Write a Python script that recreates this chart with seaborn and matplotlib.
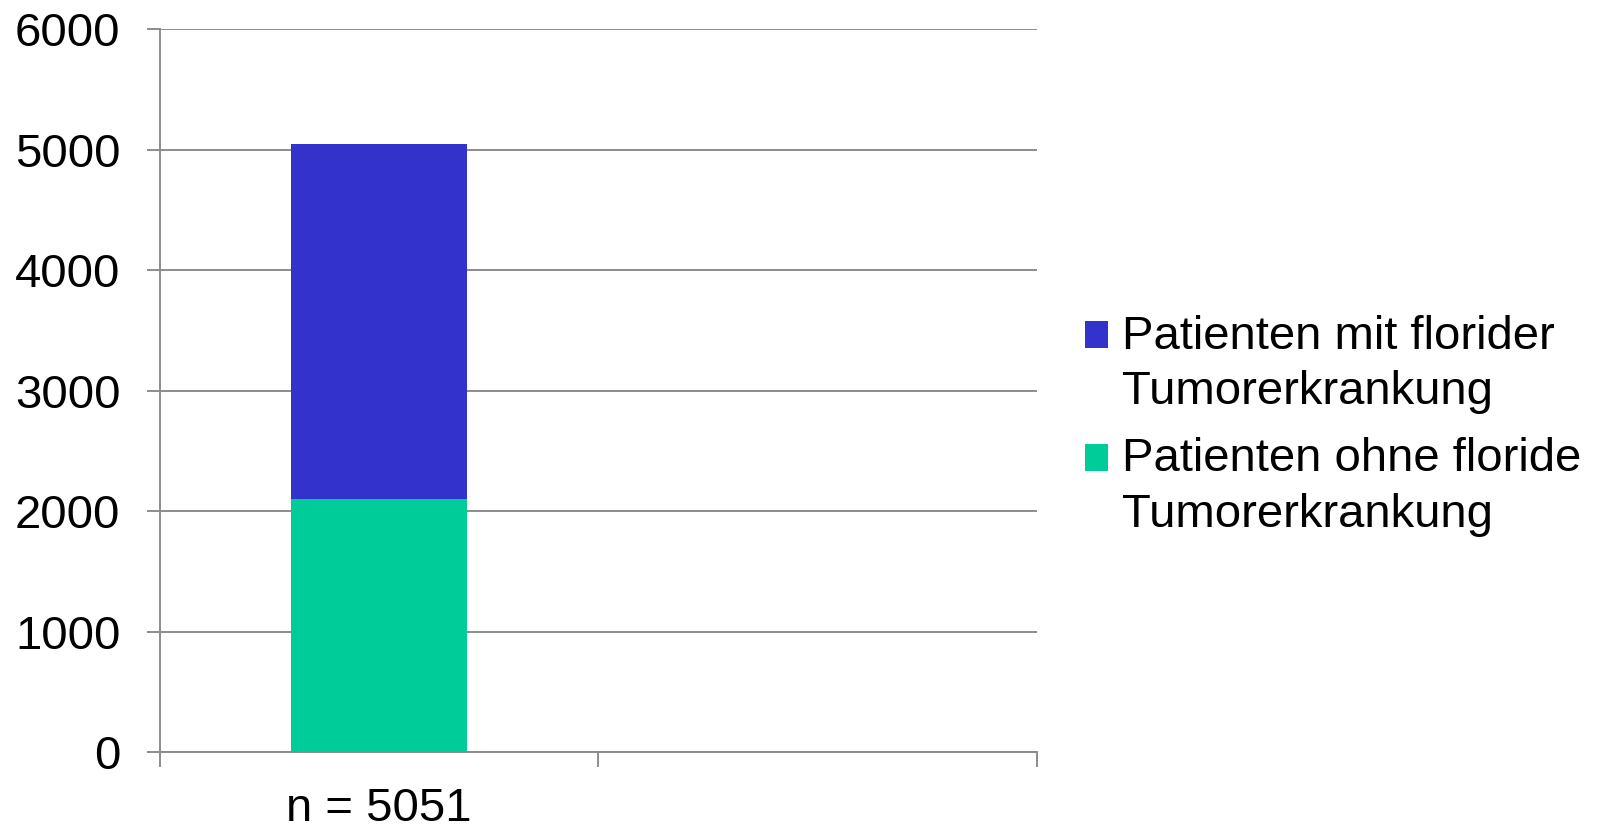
import matplotlib
matplotlib.use("Agg")
import matplotlib.pyplot as plt
from matplotlib.patches import Patch, Rectangle
from matplotlib.legend_handler import HandlerPatch
import seaborn as sns
import pandas as pd

categories = ["n = 5051", ""]
bar_category = ["n = 5051"]
ohne_values = [2100]          # Patienten ohne floride Tumorerkrankung
mit_values = [2951]           # Patienten mit florider Tumorerkrankung
series_labels = ["Patienten mit florider\nTumorerkrankung",
                 "Patienten ohne floride\nTumorerkrankung"]
yticks = [0, 1000, 2000, 3000, 4000, 5000, 6000]

BLUE = "#3333CC"
GREEN = "#00CC99"
GRID = "#8c8c8c"
FS = 34

sns.set_style("white")
plt.rcParams["font.family"] = ["Liberation Sans", "DejaVu Sans"]
plt.rcParams["text.color"] = "black"
plt.rcParams["xtick.labelcolor"] = "black"
plt.rcParams["ytick.labelcolor"] = "black"

fig = plt.figure(figsize=(16.01, 8.33), dpi=100)
ax = fig.add_axes([0.0999, 0.0969, 0.5478, 0.8679])

totals = [o + m for o, m in zip(ohne_values, mit_values)]
df_tot = pd.DataFrame({"cat": bar_category, "val": totals})
df_ohne = pd.DataFrame({"cat": bar_category, "val": ohne_values})

sns.barplot(data=df_tot, x="cat", y="val", order=categories, color=BLUE,
            saturation=1, width=0.4, ax=ax, zorder=3, linewidth=0)
sns.barplot(data=df_ohne, x="cat", y="val", order=categories, color=GREEN,
            saturation=1, width=0.4, ax=ax, zorder=4, linewidth=0)

ax.set_xlim(-0.5, 1.5)
ax.set_ylim(0, 6000)
ax.set_yticks(yticks)
ax.set_yticklabels([str(v) for v in yticks], fontsize=FS, color="black")
ax.set_xticks([0, 1])
ax.set_xticklabels(categories, fontsize=FS, color="black")
ax.set_xticks([-0.5, 0.5, 1.5], minor=True)
ax.set_xlabel("")
ax.set_ylabel("")

ax.yaxis.grid(True, color=GRID, linewidth=1.4, zorder=0)
ax.set_axisbelow(True)
for s in ["top", "right"]:
    ax.spines[s].set_visible(False)
for s in ["left", "bottom"]:
    ax.spines[s].set_color(GRID)
    ax.spines[s].set_linewidth(1.4)

ax.tick_params(axis="y", which="major", length=9.4, width=1.4, color=GRID,
               pad=19, left=True, direction="out")
ax.tick_params(axis="x", which="major", length=0, pad=25, bottom=True)
ax.tick_params(axis="x", which="minor", length=10.8, width=1.4, color=GRID,
               bottom=True, direction="out")


def top_square(legend, orig_handle, xdescent, ydescent, width, height, fontsize):
    return Rectangle((-xdescent, -ydescent + 0.64 * fontsize), width, height)


handles = [Patch(facecolor=BLUE, edgecolor="none"),
           Patch(facecolor=GREEN, edgecolor="none")]
leg = fig.legend(handles, series_labels, loc="center left",
                 bbox_to_anchor=(0.6775, 0.489), frameon=False, fontsize=FS,
                 handlelength=0.5, handleheight=0.5, handletextpad=0.3,
                 labelspacing=0.5, borderaxespad=0, borderpad=0,
                 handler_map={Patch: HandlerPatch(patch_func=top_square)})
for t in leg.get_texts():
    t.set_linespacing(1.33)

fig.savefig("out.png", dpi=100)
